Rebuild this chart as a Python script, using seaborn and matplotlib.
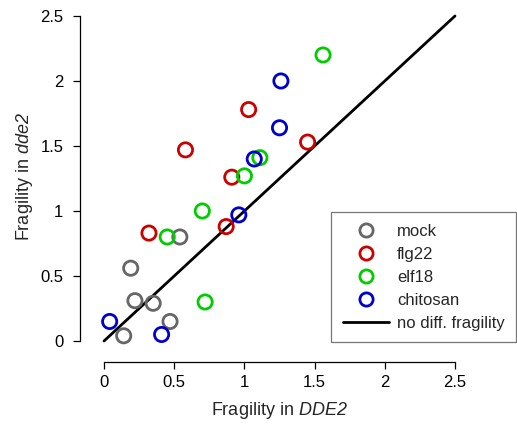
import matplotlib
matplotlib.use("Agg")
import matplotlib.pyplot as plt
import seaborn as sns
import pandas as pd
from matplotlib.lines import Line2D

# values
groups = ["mock", "flg22", "elf18", "chitosan"]
mock_x = [0.54, 0.19, 0.22, 0.35, 0.47, 0.14]
mock_y = [0.80, 0.56, 0.31, 0.29, 0.15, 0.04]
flg22_x = [1.03, 0.58, 1.45, 0.91, 0.87, 0.32]
flg22_y = [1.78, 1.47, 1.53, 1.26, 0.88, 0.83]
elf18_x = [1.56, 1.11, 1.00, 0.70, 0.45, 0.72]
elf18_y = [2.20, 1.41, 1.27, 1.00, 0.80, 0.30]
chitosan_x = [1.26, 1.25, 1.07, 0.96, 0.04, 0.41]
chitosan_y = [2.00, 1.64, 1.40, 0.97, 0.15, 0.05]
diag = [0, 2.5]
ticks = [0, 0.5, 1, 1.5, 2, 2.5]
tick_labels = ["0", "0.5", "1", "1.5", "2", "2.5"]

colors = {"mock": "#666666", "flg22": "#CD0000", "elf18": "#00CD00", "chitosan": "#0000CD"}

df = pd.DataFrame({
    "x": mock_x + flg22_x + elf18_x + chitosan_x,
    "y": mock_y + flg22_y + elf18_y + chitosan_y,
    "group": ["mock"] * 6 + ["flg22"] * 6 + ["elf18"] * 6 + ["chitosan"] * 6,
})

sns.set_style("ticks")
plt.rcParams["font.family"] = ["Liberation Sans", "DejaVu Sans"]
# math text only used for the italic gene names, so make all of it italic
plt.rcParams["mathtext.fontset"] = "custom"
plt.rcParams["mathtext.rm"] = "Liberation Sans:italic"
plt.rcParams["mathtext.it"] = "Liberation Sans:italic"

fig = plt.figure(figsize=(5.17, 4.25), dpi=100)
ax = fig.add_axes([0.1741, 0.1671, 0.7331, 0.8259])

sns.lineplot(x=diag, y=diag, color="black", linewidth=2.0, ax=ax, legend=False)
sns.scatterplot(data=df, x="x", y="y", hue="group", palette=colors, s=105,
                linewidth=2.0, ax=ax, legend=False, zorder=3)
pts = ax.collections[-1]
pts.set_edgecolors(pts.get_facecolors())
pts.set_facecolors("none")

ax.set_xlim(-0.1, 2.6)
ax.set_ylim(-0.1, 2.6)
ax.set_xticks(ticks)
ax.set_xticklabels(tick_labels)
ax.set_yticks(ticks)
ax.set_yticklabels(tick_labels)
for s in ["top", "right"]:
    ax.spines[s].set_visible(False)
ax.spines["left"].set_position(("outward", 7.2))
ax.spines["bottom"].set_position(("outward", 5.8))
ax.spines["left"].set_bounds(0, 2.5)
ax.spines["bottom"].set_bounds(0, 2.5)
for s in ["left", "bottom"]:
    ax.spines[s].set_linewidth(0.9)
    ax.spines[s].set_color("black")
ax.tick_params(axis="both", length=5, width=0.9, labelsize=12, colors="black")
ax.tick_params(axis="x", pad=4)
ax.tick_params(axis="y", pad=7)

ax.set_xlabel(r"Fragility in $DDE2$", fontsize=13)
ax.set_ylabel(r"Fragility in $dde2$", fontsize=13)
ax.xaxis.set_label_coords(0.5, -0.13)
ax.yaxis.set_label_coords(-0.145, 0.504)

handles = [Line2D([], [], marker="o", linestyle="none", markersize=9.5,
                  markerfacecolor="none", markeredgecolor=colors[g],
                  markeredgewidth=2.0) for g in groups]
handles.append(Line2D([], [], color="black", linewidth=2.0))
labels = groups + ["no diff. fragility"]
leg = ax.legend(handles, labels, loc="upper left", bbox_to_anchor=(331 / 517, 1 - 212 / 425),
                bbox_transform=fig.transFigure, fontsize=12, frameon=True, fancybox=False,
                handlelength=2.75, handletextpad=0.5, borderpad=0.7, labelspacing=0.48,
                borderaxespad=0)
leg.get_frame().set_edgecolor("#555555")
leg.get_frame().set_linewidth(0.9)

fig.savefig("out.png", dpi=100)
